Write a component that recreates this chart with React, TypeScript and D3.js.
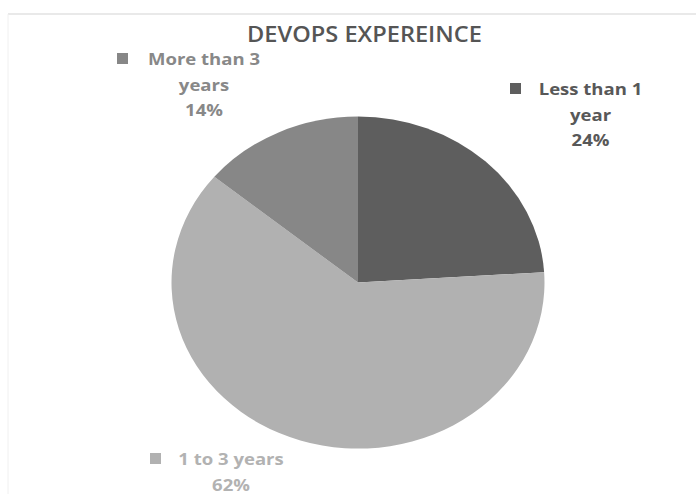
import React from "react";
import * as d3 from "d3";

const categories = ["Less than 1 year", "1 to 3 years", "More than 3 years"];
const values = [24, 62, 14];
const labelLines = [["Less than 1", "year", "24%"], ["1 to 3 years", "62%"], ["More than 3", "years", "14%"]];
const title = "DEVOPS EXPEREINCE";

const W = 696;
const H = 494;
const colors = ["#5e5e5e", "#b1b1b1", "#878787"];
const textColors = ["#585858", "#b2b2b2", "#888888"];
const cx = 358;
const cy = 282.6;
const r = 166;
const sx = 1.1235;
// label anchor positions (center x of text, baseline of first line)
const labelPos = [
  { x: 590.5, y: 95 },
  { x: 231, y: 465 },
  { x: 204, y: 65 },
];
const lineH = 25.6;
const fontFam = "'Open Sans', 'DejaVu Sans', sans-serif";

export default function App() {
  const pie = d3.pie<number>().sort(null).value((d) => d);
  const arcs = pie(values);
  const arc = d3.arc<d3.PieArcDatum<number>>().innerRadius(0).outerRadius(r);

  return (
    <svg width={W} height={H} style={{ position: "absolute", left: 0, top: 0, background: "#fff" }}>
      <rect x={0} y={0} width={W} height={H} fill="#ffffff" />
      <line x1={8} x2={W} y1={14} y2={14} stroke="#e2e2e2" strokeWidth={1.5} />
      <line x1={8} x2={8} y1={14} y2={H} stroke="#f0f0f0" strokeWidth={1} />
      <text
        transform={`translate(${364.5},${42}) scale(${sx},1)`}
        textAnchor="middle"
        fontFamily={fontFam}
        fontWeight={600}
        fontSize={21}
        fill="#555555"
      >
        {title}
      </text>
      <g transform={`translate(${cx},${cy}) scale(${sx},1)`}>
        {arcs.map((a, i) => (
          <path key={categories[i]} d={arc(a) || ""} fill={colors[i]} />
        ))}
      </g>
      {labelLines.map((lines, i) => {
        const p = labelPos[i];
        return (
          <g key={categories[i]}>
            {lines.map((ln, j) => (
              <text
                key={j}
                transform={`translate(${p.x},${p.y + j * lineH}) scale(${sx},1)`}
                textAnchor="middle"
                fontFamily={fontFam}
                fontWeight={700}
                fontSize={16.5}
                fill={textColors[i]}
              >
                {ln}
              </text>
            ))}
          </g>
        );
      })}
      {labelLines.map((lines, i) => {
        const p = labelPos[i];
        const off = [80.5, 81, 87][i];
        return (
          <rect
            key={"m" + i}
            x={p.x - off}
            y={p.y - 12}
            width={11}
            height={11}
            fill={colors[i]}
          />
        );
      })}
    </svg>
  );
}
